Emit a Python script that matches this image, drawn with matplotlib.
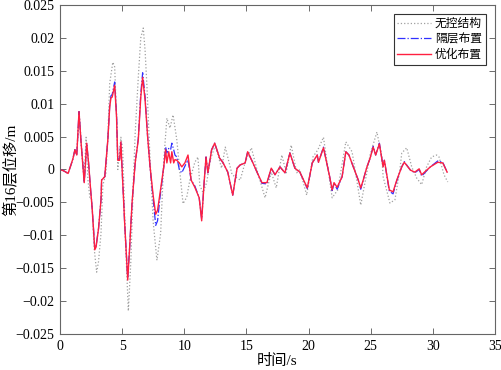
import matplotlib
matplotlib.use("Agg")
import matplotlib.pyplot as plt
from matplotlib.ticker import FuncFormatter

# time (s) and 16th-floor displacement (m)
t_ctrl = [0, 0.3, 0.65, 0.9, 1.05, 1.2, 1.35, 1.53, 1.7, 1.95, 2.15, 2.3, 2.45, 2.6, 2.8, 2.9,
          3.1, 3.3, 3.35, 3.6, 3.85, 4.0, 4.1, 4.2, 4.4, 4.55, 4.65, 4.8, 4.9, 4.95, 5.2, 5.45,
          5.6, 5.8, 6.05, 6.3, 6.5, 6.65, 6.85, 7.05, 7.25, 7.5, 7.7, 7.85, 8.05, 8.35, 8.5,
          8.6, 8.75, 8.9, 9.0, 9.15, 9.25, 9.4, 9.6, 9.8, 10.05, 10.3, 10.55, 10.85, 11.2, 11.4,
          11.6, 11.75, 11.9, 12.2, 12.45, 12.85, 13.1, 13.5, 13.9, 14.25, 14.5, 14.9, 15.1,
          15.5, 15.9, 16.25, 16.65, 17.0, 17.3, 17.7, 18.1, 18.5, 18.9, 19.3, 19.9, 20.3, 20.7,
          20.8, 21.2, 21.7, 21.9, 22.05, 22.3, 22.7, 23.0, 23.25, 23.6, 24.0, 24.2, 24.4, 24.7,
          24.95, 25.2, 25.4, 25.7, 26.0, 26.1, 26.5, 26.8, 27.1, 27.5, 27.7, 28.2, 28.55, 28.9,
          29.1, 29.8, 30.4, 30.8, 31.15]

d_opt = [0.0, -0.0002, -0.0006, 0.0008, 0.0017, 0.003, 0.0022, 0.0088, 0.004, -0.002, 0.004,
         0.001, -0.0027, -0.0062, -0.0122, -0.0118, -0.009, -0.0046, -0.0016, -0.0011, 0.0045,
         0.0095, 0.0109, 0.011, 0.0128, 0.008, 0.0014, 0.0014, 0.0042, 0.002, -0.008, -0.0168,
         -0.012, -0.005, 0.001, 0.0045, 0.011, 0.014, 0.0105, 0.005, 0.0004, -0.004, -0.0068,
         -0.0062, -0.0036, 0.0004, 0.003, 0.001, 0.0027, 0.001, 0.0027, 0.001, 0.0015, 0.0014,
         0.001, 0.0004, 0.001, 0.0022, -0.0016, -0.0027, -0.0043, -0.0078, -0.0019, 0.0019,
         -0.0005, 0.003, 0.004, 0.0017, 0.0011, -0.0004, -0.0039, 0.0002, 0.0007, 0.001, 0.0027,
         0.0011, -0.0006, -0.002, -0.002, 0.0002, -0.0008, 0.0004, -0.0005, 0.0025, 0.0002,
         -0.0004, -0.0028, 0.001, 0.0022, 0.0011, 0.0033, -0.0011, -0.0031, -0.002, -0.0027,
         -0.0011, 0.0027, 0.0022, 0.0004, -0.0016, -0.0028, -0.0016, 0.0004, 0.0017, 0.0034,
         0.0022, 0.0039, 0.0004, 0.0014, -0.0031, -0.0034, -0.0016, 0.0004, 0.0011, -0.0001,
         -0.0004, 0.0001, -0.0008, 0.0004, 0.0011, 0.001, -0.0004]

d_iso = [0.0, -0.0002, -0.0006, 0.0008, 0.0017, 0.003, 0.0022, 0.0088, 0.004, -0.002, 0.004,
         0.001, -0.0027, -0.0062, -0.012, -0.0117, -0.009, -0.0046, -0.0016, -0.0011, 0.0045,
         0.0097, 0.0112, 0.0114, 0.0133, 0.0085, 0.0016, 0.0016, 0.0042, 0.002, -0.008, -0.0165,
         -0.012, -0.005, 0.001, 0.0047, 0.0115, 0.0147, 0.011, 0.005, 0.0002, -0.0045, -0.0085,
         -0.0078, -0.0042, 0.0004, 0.0034, 0.0025, 0.0032, 0.003, 0.004, 0.003, 0.0022, 0.0019,
         0.0, -0.0005, 0.0005, 0.0015, -0.0016, -0.0025, -0.0043, -0.0075, -0.0019, 0.0019,
         -0.0005, 0.003, 0.004, 0.0017, 0.0011, -0.0004, -0.0039, 0.0002, 0.0007, 0.001, 0.0027,
         0.0011, -0.0006, -0.0021, -0.0022, 0.0002, -0.0008, 0.0004, -0.0005, 0.0025, 0.0002,
         -0.0004, -0.0029, 0.001, 0.0022, 0.0011, 0.0034, -0.0011, -0.0032, -0.0021, -0.003,
         -0.0011, 0.0027, 0.0022, 0.0004, -0.0016, -0.003, -0.0016, 0.0004, 0.0017, 0.0035,
         0.0022, 0.004, 0.0004, 0.0014, -0.0033, -0.0037, -0.0017, 0.0004, 0.0012, -0.0001,
         -0.0005, 0.0, -0.001, 0.0004, 0.0013, 0.0011, -0.0004]

t_none = [0, 0.3, 0.65, 0.9, 1.05, 1.2, 1.35, 1.55, 1.75, 1.95, 2.1, 2.25, 2.4, 2.55, 2.75,
          2.95, 3.1, 3.3, 3.45, 3.7, 3.85, 4.0, 4.25, 4.4, 4.55, 4.65, 4.9, 5.05, 5.25, 5.5,
          5.7, 5.9, 6.05, 6.3, 6.5, 6.7, 6.85, 7.0, 7.25, 7.5, 7.8, 8.1, 8.35, 8.6, 8.85, 9.1,
          9.4, 9.65, 9.9, 10.2, 10.45, 10.85, 11.1, 11.25, 11.5, 11.8, 12.1, 12.5, 13.0, 13.3,
          13.85, 14.5, 14.9, 15.4, 15.9, 16.5, 17.0, 17.4, 17.85, 18.2, 18.6, 19.05, 19.3,
          19.85, 20.35, 20.75, 21.2, 21.9, 22.35, 23.0, 23.5, 23.75, 24.2, 24.55, 24.95, 25.5,
          25.9, 26.0, 26.55, 26.95, 27.35, 27.5, 27.9, 28.3, 28.7, 29.1, 29.5, 29.9, 30.3,
          30.5, 30.9, 31.2]

d_none = [0.0, -0.0002, -0.0006, 0.0008, 0.0017, 0.003, 0.0022, 0.0085, 0.003, -0.001, 0.0049,
          -0.0016, -0.0042, -0.0046, -0.012, -0.0156, -0.014, -0.0097, -0.0024, -0.0005, 0.005,
          0.0131, 0.0163, 0.0156, 0.008, 0.0, 0.0049, 0.003, -0.01, -0.0215, -0.014, -0.002,
          0.0055, 0.014, 0.02, 0.0215, 0.018, 0.0125, 0.0014, -0.008, -0.0138, -0.0097, 0.0014,
          0.0078, 0.0063, 0.0083, 0.0045, -0.0005, -0.0052, -0.0042, -0.0016, 0.0011, 0.0019,
          -0.0024, -0.0035, -0.002, 0.0015, 0.0037, 0.0002, 0.0034, -0.0008, -0.0016, 0.0011,
          0.0033, -0.0004, -0.0043, -0.0004, -0.0028, 0.0022, -0.0005, 0.0037, -0.0005, 0.0,
          -0.0039, 0.0019, 0.003, 0.0049, -0.0043, -0.0031, 0.0042, 0.0027, -0.0001, -0.0054,
          -0.0019, 0.0022, 0.0057, 0.0019, -0.0011, -0.0051, -0.0046, 0.0, 0.0025, 0.0033,
          0.0004, -0.0013, -0.0023, 0.0004, 0.0019, 0.0022, 0.0019, -0.0008, -0.0019]

labels = ["无控结构", "隔层布置", "优化布置"]

plt.rcParams['font.family'] = ['Liberation Serif', 'Noto Sans CJK SC']
plt.rcParams['font.size'] = 10
plt.rcParams['axes.unicode_minus'] = True

fig = plt.figure(figsize=(5.02, 3.70), dpi=100)
ax = fig.add_axes([0.1195, 0.0973, 0.8665, 0.8892])

ax.plot(t_none, d_none, color='#a0a0a0', linestyle=':', linewidth=0.9, label=labels[0])
ax.plot(t_ctrl, d_iso, color='#3030ff', linestyle='-.', linewidth=0.9, label=labels[1])
ax.plot(t_ctrl, d_opt, color='#ff2040', linestyle='-', linewidth=1.0, label=labels[2])

ax.set_xlim(0, 35)
ax.set_ylim(-0.025, 0.025)
ax.set_xticks(range(0, 36, 5))
ax.set_yticks([-0.025, -0.02, -0.015, -0.01, -0.005, 0, 0.005, 0.01, 0.015, 0.02, 0.025])
ax.yaxis.set_major_formatter(FuncFormatter(
    lambda v, p: '0' if abs(v) < 1e-12 else f'{v:g}'.replace('-', '\u2212')))

ax.tick_params(direction='in', top=True, right=True, length=4, width=0.6, pad=4,
               colors='#555555', labelcolor='black', labelsize=10)
for s in ax.spines.values():
    s.set_color('#666666')
    s.set_linewidth(0.8)

ax.set_xlabel('时间/s', fontsize=11)
ax.set_ylabel('第16层位移/m', fontsize=11)
ax.xaxis.set_label_coords(0.5, -0.062)
ax.yaxis.set_label_coords(-0.112, 0.5)
ax.yaxis.label.set_va('center')

leg = ax.legend(loc='upper right', fancybox=False, framealpha=1, edgecolor='#333333',
                fontsize=8.5, handlelength=2.9, borderpad=0.3, labelspacing=0.3,
                handletextpad=0.3, borderaxespad=0.8)
leg.get_frame().set_linewidth(0.8)

fig.savefig('out.png', dpi=100)
